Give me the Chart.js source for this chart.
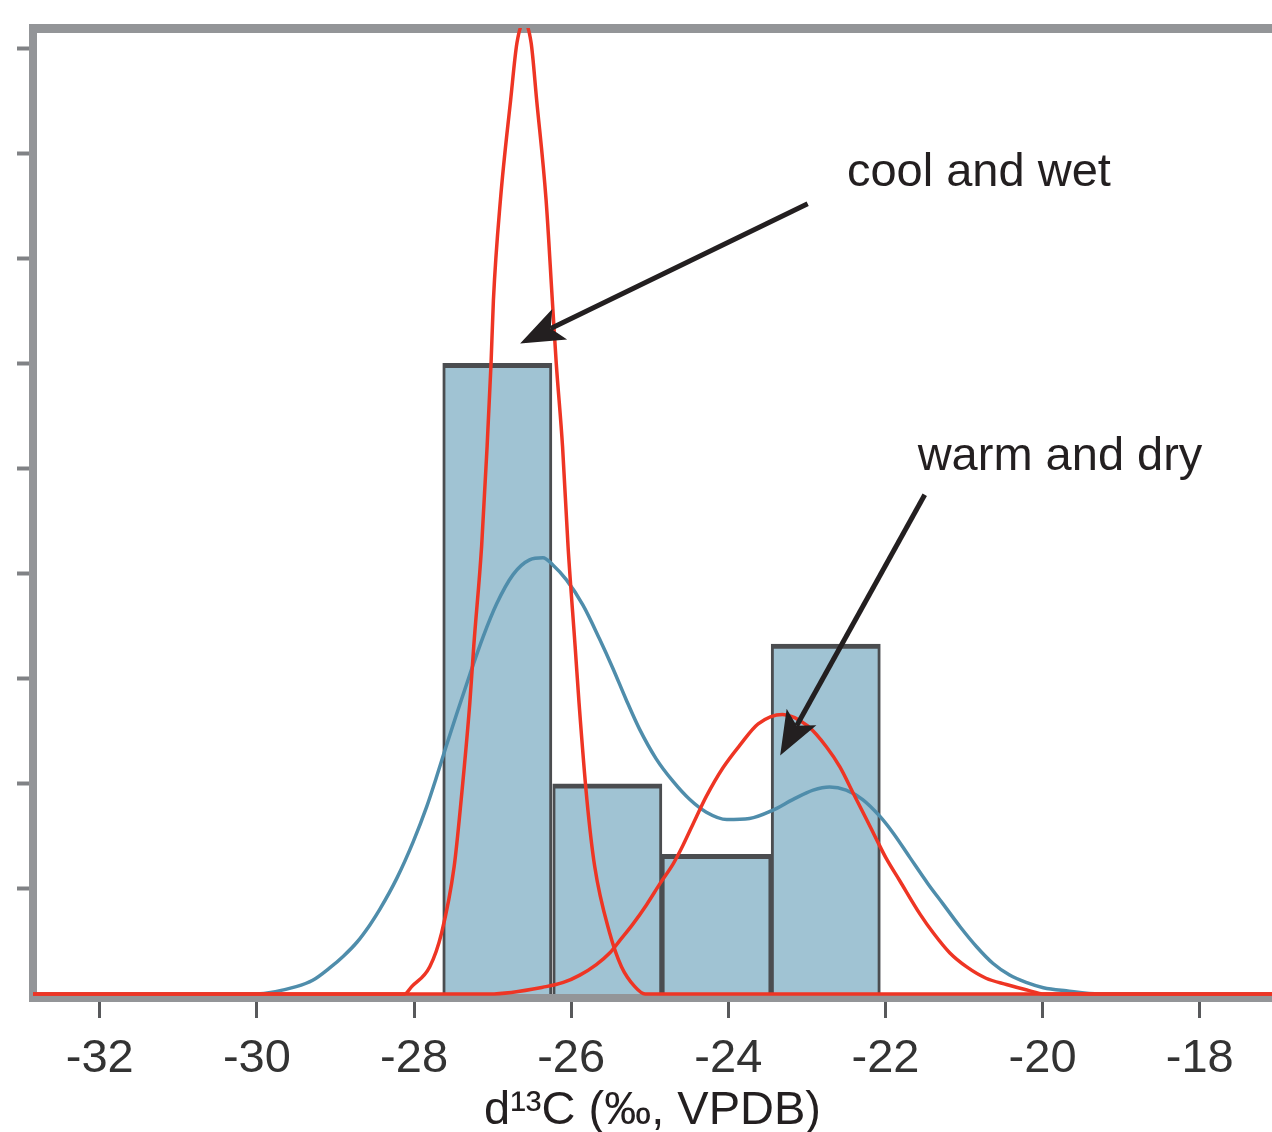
<!DOCTYPE html>
<html>
<head>
<meta charset="utf-8">
<script src="https://cdn.jsdelivr.net/npm/chart.js@4.4.1/dist/chart.umd.min.js"></script>
<style>
html,body{margin:0;padding:0;background:#fff;}
#wrap{width:1272px;height:1132px;}
</style>
</head>
<body>
<div id="wrap"><canvas id="c" width="1272" height="1132"></canvas></div>
<script>
// ---- data ----
const binCenters = [-26.94, -25.54, -24.15, -22.76];
const binHeights = [6, 2, 1.33, 3.33];

// narrow red curve ("cool and wet")
const redAX = [-32.85, -28.12, -28.03, -27.80, -27.65, -27.49, -27.40, -27.29, -27.24, -27.14, -27.07, -27.02, -26.99, -26.90, -26.77, -26.69, -26.60, -26.51, -26.44, -26.32, -26.24, -26.19, -26.11, -26.04, -25.95, -25.90, -25.80, -25.70, -25.51, -25.36, -25.19, -25.06, -17.08];
const redAY = [0, 0, 0.07, 0.26, 0.58, 1.21, 1.85, 2.77, 3.31, 4.26, 5.21, 6.00, 6.60, 7.56, 8.51, 9.05, 9.25, 9.05, 8.51, 7.56, 6.60, 6.00, 5.21, 4.26, 3.31, 2.77, 1.85, 1.21, 0.58, 0.26, 0.07, 0, 0];

// broad red curve ("warm and dry")
const redBX = [-32.85, -27.04, -26.32, -26.10, -25.89, -25.68, -25.51, -25.38, -25.21, -25.04, -24.87, -24.70, -24.58, -24.41, -24.28, -24.07, -23.85, -23.62, -23.31, -22.99, -22.75, -22.58, -22.41, -22.24, -22.12, -21.99, -21.82, -21.56, -21.39, -21.18, -20.97, -20.72, -20.46, -20.21, -19.97, -17.08];
const redBY = [0, 0, 0.07, 0.11, 0.18, 0.28, 0.39, 0.51, 0.67, 0.85, 1.05, 1.24, 1.41, 1.68, 1.88, 2.15, 2.37, 2.57, 2.66, 2.55, 2.35, 2.16, 1.91, 1.66, 1.48, 1.29, 1.08, 0.76, 0.58, 0.39, 0.26, 0.15, 0.09, 0.04, 0, 0];

// blue density curve
const blueX = [-32.85, -30.01, -29.50, -29.29, -29.07, -28.90, -28.73, -28.56, -28.44, -28.22, -28.01, -27.84, -27.72, -27.59, -27.46, -27.29, -27.12, -26.95, -26.74, -26.53, -26.36, -26.23, -26.06, -25.85, -25.64, -25.47, -25.30, -25.13, -24.92, -24.70, -24.49, -24.28, -24.02, -23.73, -23.43, -23.18, -22.92, -22.71, -22.50, -22.29, -22.07, -21.90, -21.69, -21.46, -21.27, -21.05, -20.84, -20.63, -20.42, -20.21, -19.99, -19.70, -19.27, -17.08];
const blueY = [0, 0, 0.07, 0.13, 0.25, 0.36, 0.49, 0.66, 0.80, 1.10, 1.45, 1.78, 2.05, 2.36, 2.66, 3.04, 3.40, 3.71, 3.99, 4.13, 4.15, 4.08, 3.94, 3.70, 3.38, 3.10, 2.80, 2.52, 2.24, 2.02, 1.85, 1.73, 1.66, 1.67, 1.75, 1.85, 1.94, 1.97, 1.94, 1.85, 1.69, 1.53, 1.30, 1.05, 0.86, 0.64, 0.45, 0.29, 0.18, 0.11, 0.06, 0.03, 0, 0];

const xTickValues = [-32, -30, -28, -26, -24, -22, -20, -18];
const yTickValues = [1, 2, 3, 4, 5, 6, 7, 8, 9];
const xTitle = 'd¹³C (‰, VPDB)';
const noteTexts = ['cool and wet', 'warm and dry'];

// annotation placement (data units)
const noteAnchors = [[-22.49, 7.69], [-21.59, 4.99]];
const arrowFrom = [[-22.99, 7.52], [-21.50, 4.75]];
const arrowTo = [[-26.65, 6.19], [-23.34, 2.27]];

const zip = (xs, ys) => xs.map((x, i) => ({x: x, y: ys[i]}));

const FONT = '"Liberation Sans", Arial, Helvetica, sans-serif';
const GRAY = '#939598';
const INK = '#231f20';

const notesPlugin = {
  id: 'notes',
  afterDatasetsDraw(chart) {
    const ctx = chart.ctx;
    const sx = chart.scales.x, sy = chart.scales.y;
    ctx.save();
    ctx.strokeStyle = INK;
    ctx.fillStyle = INK;
    ctx.lineWidth = 5;
    ctx.lineCap = 'butt';
    for (let i = 0; i < arrowFrom.length; i++) {
      const x0 = sx.getPixelForValue(arrowFrom[i][0]), y0 = sy.getPixelForValue(arrowFrom[i][1]);
      const x1 = sx.getPixelForValue(arrowTo[i][0]), y1 = sy.getPixelForValue(arrowTo[i][1]);
      const len = Math.hypot(x1 - x0, y1 - y0);
      const ux = (x1 - x0) / len, uy = (y1 - y0) / len;
      const nx = -uy, ny = ux;
      const L = 44, W = 17, notch = 10;
      ctx.beginPath();
      ctx.moveTo(x0, y0);
      ctx.lineTo(x1 - (L - notch) * ux, y1 - (L - notch) * uy);
      ctx.stroke();
      ctx.beginPath();
      ctx.moveTo(x1, y1);
      ctx.lineTo(x1 - L * ux + W * nx, y1 - L * uy + W * ny);
      ctx.lineTo(x1 - (L - notch) * ux, y1 - (L - notch) * uy);
      ctx.lineTo(x1 - L * ux - W * nx, y1 - L * uy - W * ny);
      ctx.closePath();
      ctx.fill();
    }
    ctx.font = '47px ' + FONT;
    ctx.textAlign = 'left';
    ctx.textBaseline = 'alphabetic';
    for (let i = 0; i < noteTexts.length; i++) {
      ctx.fillText(noteTexts[i], sx.getPixelForValue(noteAnchors[i][0]), sy.getPixelForValue(noteAnchors[i][1]));
    }
    ctx.restore();
  }
};

new Chart(document.getElementById('c'), {
  data: {
    datasets: [
      {type: 'line', label: 'cool and wet', data: zip(redAX, redAY), borderColor: '#ee3524', borderWidth: 3.5,
       pointRadius: 0, fill: false, cubicInterpolationMode: 'monotone', order: 0},
      {type: 'line', label: 'warm and dry', data: zip(redBX, redBY), borderColor: '#ee3524', borderWidth: 3.5,
       pointRadius: 0, fill: false, cubicInterpolationMode: 'monotone', order: 1},
      {type: 'line', label: 'density', data: zip(blueX, blueY), borderColor: '#4f8dab', borderWidth: 3.5,
       pointRadius: 0, fill: false, cubicInterpolationMode: 'monotone', order: 2},
      {type: 'bar', label: 'histogram', data: zip(binCenters, binHeights), backgroundColor: '#a0c3d3',
       borderColor: '#4b4d50', borderWidth: {top: 5, left: 3, right: 3, bottom: 0}, borderSkipped: false,
       barPercentage: 1, categoryPercentage: 1, grouped: false, order: 3}
    ]
  },
  options: {
    responsive: false,
    animation: false,
    events: [],
    layout: {padding: 0},
    plugins: {legend: {display: false}, tooltip: {enabled: false}},
    scales: {
      x: {
        type: 'linear', position: 'bottom', min: -32.85, max: -17.08, offset: false,
        afterBuildTicks: s => { s.ticks = xTickValues.map(v => ({value: v})); },
        afterFit: s => { s.height = 134; },
        grid: {offset: false, drawOnChartArea: false, tickLength: 20, tickWidth: 3, tickColor: '#58595b'},
        border: {display: true, width: 8, color: GRAY},
        ticks: {padding: 13, color: '#333333', font: {family: FONT, size: 47}, autoSkip: false, maxRotation: 0,
                callback: v => String(v)},
        title: {display: true, text: xTitle, color: INK, font: {family: FONT, size: 47, lineHeight: 0.9}, padding: 0}
      },
      x2: {
        type: 'linear', position: 'top', min: -32.85, max: -17.08, offset: false,
        afterBuildTicks: s => { s.ticks = []; },
        afterFit: s => { s.height = 28; },
        grid: {offset: false, drawOnChartArea: false, drawTicks: false},
        border: {display: true, width: 9, color: GRAY},
        ticks: {display: false}
      },
      y: {
        type: 'linear', position: 'left', min: -0.038, max: 9.191,
        afterBuildTicks: s => { s.ticks = yTickValues.map(v => ({value: v})); },
        afterFit: s => { s.width = 33; },
        grid: {drawOnChartArea: false, tickLength: 16, tickWidth: 4, tickColor: '#808285'},
        border: {display: true, width: 8, color: GRAY},
        ticks: {display: false}
      }
    }
  },
  plugins: [notesPlugin]
});
</script>
</body>
</html>
